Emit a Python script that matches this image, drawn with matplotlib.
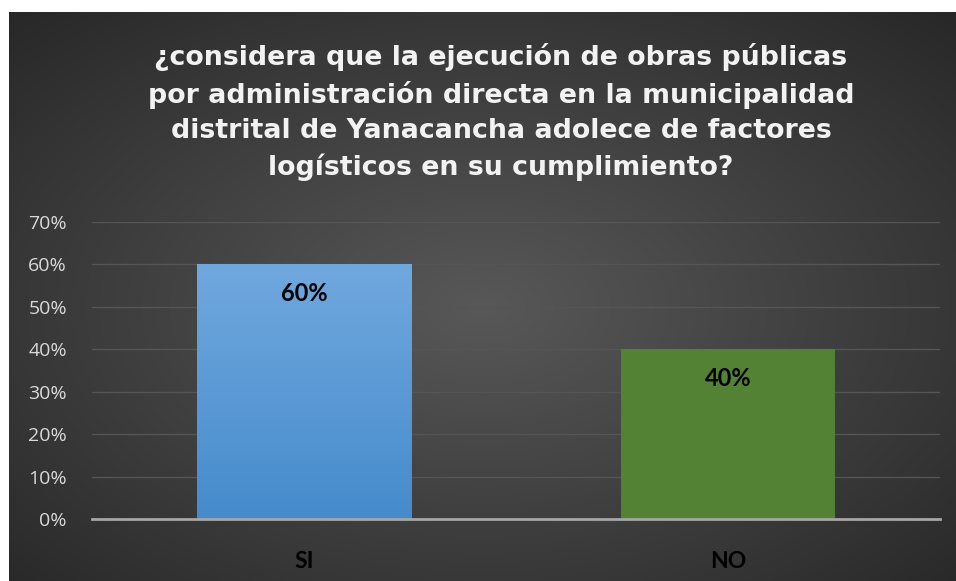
import matplotlib.pyplot as plt
import numpy as np
from matplotlib.colors import LinearSegmentedColormap

# Data
categories = ['SI', 'NO']
values = [0.60, 0.40]
labels = ['60%', '40%']
ticks = [0, 0.1, 0.2, 0.3, 0.4, 0.5, 0.6, 0.7]
title = ('¿considera que la ejecución de obras públicas\n'
         'por administración directa en la municipalidad\n'
         'distrital de Yanacancha adolece de factores\n'
         'logísticos en su cumplimiento?')

plt.rcParams['font.family'] = ['Open Sans', 'DejaVu Sans']

W, H = 956, 581
fig = plt.figure(figsize=(W / 100, H / 100), dpi=100, facecolor='white')

# dark radial background panel
bg = fig.add_axes([9 / W, 0, (W - 9) / W, (H - 12) / H])
bg.set_axis_off()
yy, xx = np.mgrid[0:1:300j, 0:1:500j]
r = np.sqrt(((xx - 0.5) / 0.75) ** 2 + ((yy - 0.52) / 0.75) ** 2)
bg_cmap = LinearSegmentedColormap.from_list('bg', ['#585858', '#262626'])
bg.imshow(np.clip(r, 0, 1), cmap=bg_cmap, aspect='auto', extent=[0, 1, 0, 1], vmin=0, vmax=1)
bg.set_xlim(0, 1)
bg.set_ylim(0, 1)

# wide bold face to mimic the spaced-out title
fig.text(501 / W, 1 - 112 / H, title, ha='center', va='center', color='#f2f2f2',
         fontsize=19.3, fontweight='bold', linespacing=1.45, family='DejaVu Sans')

ax = fig.add_axes([92 / W, 62 / H, 848 / W, 297 / H])
ax.patch.set_alpha(0)
x = np.arange(len(categories))
bars = ax.bar(x, values, width=0.505, color=['#5b9bd5', '#548235'], zorder=3)

# gradient for blue bar
grad = LinearSegmentedColormap.from_list('blue', ['#468bcc', '#70a8de'])
b = bars[0]
im = ax.imshow(np.linspace(0, 1, 100).reshape(-1, 1), cmap=grad, origin='lower', aspect='auto',
               extent=[b.get_x(), b.get_x() + b.get_width(), 0, b.get_height()], zorder=3)
im.set_clip_path(b)
ax.set_xlim(-0.5, 1.5)
ax.set_ylim(0, 0.7)

bold_font = ['Lato', 'DejaVu Sans']
for xi, v, lab in zip(x, values, labels):
    ax.annotate(lab, (xi, v), xytext=(0, -21), textcoords='offset points', ha='center', va='center',
                fontsize=17, fontweight='bold', color='black', zorder=5, family=bold_font)

ax.set_yticks(ticks)
ax.set_yticklabels([f'{int(round(t * 100))}%' for t in ticks])
ax.set_xticks(x)
ax.set_xticklabels(categories, fontsize=16.5, fontweight='bold', color='black', family=bold_font)
ax.tick_params(axis='y', length=0, labelsize=14, labelcolor='#d9d9d9', pad=18)
ax.tick_params(axis='x', length=0, pad=23)
ax.grid(axis='y', color='#555555', lw=1, zorder=0)
for s in ['top', 'right', 'left']:
    ax.spines[s].set_visible(False)
ax.spines['bottom'].set_color('#a6a6a6')
ax.spines['bottom'].set_linewidth(2)
ax.spines['bottom'].set_zorder(4)

plt.savefig('out.png', dpi=100, facecolor='white')
